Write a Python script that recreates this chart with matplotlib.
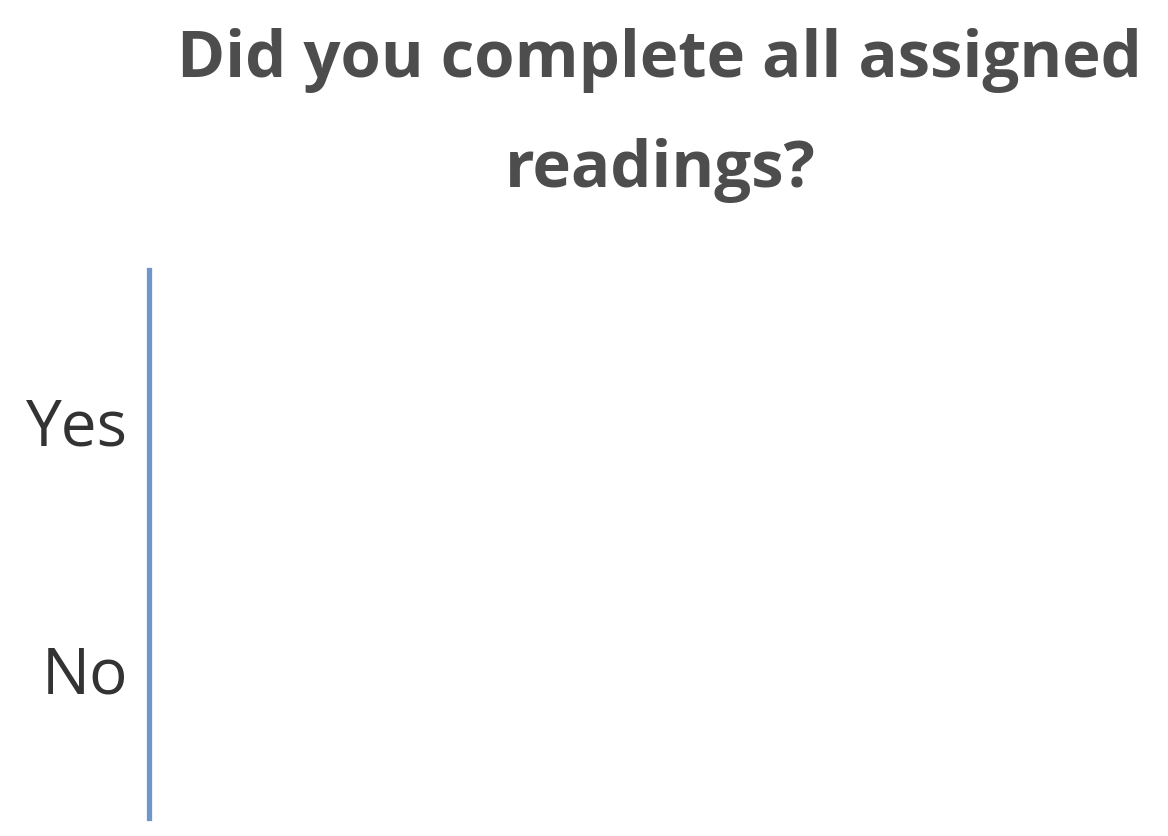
import matplotlib
matplotlib.use("Agg")
import matplotlib.pyplot as plt

categories = ["Yes", "No"]
values = [0, 0]
title = "Did you complete all assigned\nreadings?"

plt.rcParams['font.family'] = ['Open Sans', 'DejaVu Sans']

fig = plt.figure(figsize=(11.68, 8.36), dpi=100)
# axes: left edge at x=149px, top 270px, bottom 818px
ax = fig.add_axes([149 / 1168, (836 - 818) / 836, (1168 - 149) / 1168, (818 - 270) / 836])

ax.barh(range(len(categories)), values, color="#6f96c8", height=0.6)
ax.set_yticks(range(len(categories)))
ax.set_yticklabels(categories, fontsize=46, color="#333333")
ax.set_ylim(1.6, -0.61)
ax.set_xlim(0, 1)
ax.set_xticks([])
ax.tick_params(axis="y", length=0, pad=15)

for s in ["top", "right", "bottom"]:
    ax.spines[s].set_visible(False)
ax.spines["left"].set_color("#6f96c8")
ax.spines["left"].set_linewidth(3.8)

fig.text(0.565, 0.966, title, ha="center", va="top", fontsize=47,
         fontweight="bold", color="#4d4d4d", linespacing=1.9)

fig.savefig("out.png", dpi=100)
plt.close(fig)
